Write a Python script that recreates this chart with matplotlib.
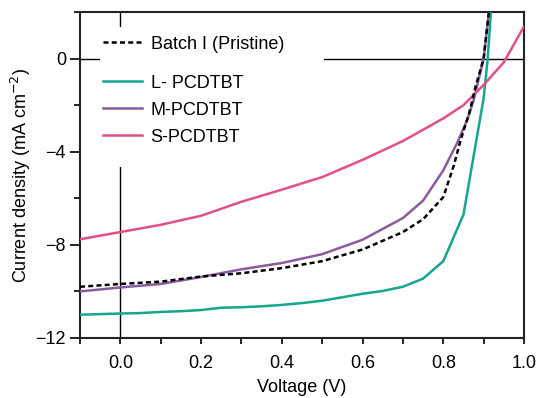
import matplotlib as mpl
mpl.use('Agg')
import matplotlib.pyplot as plt
from matplotlib.patches import Rectangle
from matplotlib.ticker import MultipleLocator
import numpy as np

# J-V curves (V in volts, J in mA cm-2)
v_batch = [-0.1, 0.0, 0.1, 0.2, 0.3, 0.4, 0.5, 0.6, 0.7, 0.75, 0.8, 0.826, 0.843, 0.865, 0.88, 0.9, 0.913]
j_batch = [-9.8, -9.68, -9.58, -9.36, -9.22, -9.0, -8.7, -8.2, -7.45, -6.9, -5.95, -4.6, -3.5, -2.3, -1.2, 0.0, 2.0]

v_L = [-0.1, 0.0, 0.05, 0.1, 0.15, 0.2, 0.25, 0.3, 0.35, 0.4, 0.45, 0.5, 0.55, 0.6, 0.65, 0.7, 0.75, 0.8, 0.85, 0.9, 0.91, 0.918]
j_L = [-11.0, -10.95, -10.93, -10.88, -10.85, -10.8, -10.7, -10.68, -10.64, -10.58, -10.5, -10.4, -10.25, -10.1, -9.98, -9.8, -9.45, -8.7, -6.7, -1.7, 0.0, 2.0]

v_M = [-0.1, 0.0, 0.1, 0.2, 0.3, 0.4, 0.5, 0.6, 0.7, 0.75, 0.8, 0.835, 0.86, 0.875, 0.9, 0.913]
j_M = [-10.0, -9.83, -9.68, -9.38, -9.05, -8.78, -8.4, -7.78, -6.85, -6.1, -4.8, -3.6, -2.6, -1.8, 0.0, 2.0]

v_S = [-0.1, 0.0, 0.1, 0.2, 0.3, 0.4, 0.5, 0.6, 0.7, 0.8, 0.85, 0.9, 0.95, 1.0]
j_S = [-7.76, -7.45, -7.14, -6.75, -6.15, -5.63, -5.09, -4.35, -3.54, -2.57, -2.0, -1.13, -0.16, 1.38]

labels = ['Batch I (Pristine)', 'L- PCDTBT', 'M-PCDTBT', 'S-PCDTBT']
colors = ['black', '#16a58d', '#8a5c9e', '#e2508a']

mpl.rc('font', family='Liberation Sans', size=13)

fig = plt.figure(figsize=(5.38, 3.98), dpi=100)
ax = fig.add_axes([0.1487, 0.1508, 0.8253, 0.819])

ax.axhline(0, color='black', lw=1.0, zorder=1)
ax.axvline(0, color='black', lw=1.0, zorder=1)
# white block behind the legend (hides the zero lines there)
ax.add_patch(Rectangle((0.045, 0.525), 0.505, 0.43, transform=ax.transAxes,
                       facecolor='white', edgecolor='none', zorder=2))

l_b, = ax.plot(v_batch, j_batch, color=colors[0], lw=1.8, dashes=(2.0, 1.3), zorder=5)
l_L, = ax.plot(v_L, j_L, color=colors[1], lw=1.8, zorder=4)
l_M, = ax.plot(v_M, j_M, color=colors[2], lw=1.8, zorder=4)
l_S, = ax.plot(v_S, j_S, color=colors[3], lw=1.8, zorder=4)

ax.set_xlim(-0.1, 1.0)
ax.set_ylim(-12, 2)
ax.xaxis.set_major_locator(MultipleLocator(0.2))
ax.xaxis.set_minor_locator(MultipleLocator(0.1))
ax.yaxis.set_major_locator(MultipleLocator(4))
ax.yaxis.set_minor_locator(MultipleLocator(2))
ax.xaxis.set_major_formatter(mpl.ticker.FormatStrFormatter('%.1f'))
ax.yaxis.set_major_formatter(mpl.ticker.FuncFormatter(lambda y, p: ('%d' % y).replace('-', '\u2212')))
ax.tick_params(axis='x', which='both', length=4, width=1.2, pad=8)
ax.tick_params(axis='y', which='major', length=7, width=1.2, pad=3)
ax.tick_params(axis='y', which='minor', length=4, width=1.2)
for s in ax.spines.values():
    s.set_linewidth(1.5)
    s.set_color('#222222')

ax.set_xlabel('Voltage (V)', labelpad=5)
ax.set_ylabel('Current density (mA cm$^{\u22122}$)', labelpad=2)

leg1 = ax.legend([l_b], [labels[0]], loc='upper left', bbox_to_anchor=(0.035, 0.95),
                 frameon=False, handlelength=2.2, handletextpad=0.45, borderaxespad=0)
ax.add_artist(leg1)
leg1.set_zorder(6)
leg2 = ax.legend([l_L, l_M, l_S], labels[1:], loc='upper left', bbox_to_anchor=(0.035, 0.83),
                 frameon=False, handlelength=2.2, handletextpad=0.45, borderaxespad=0,
                 labelspacing=0.55)
leg2.set_zorder(6)

plt.savefig('out.png', dpi=100)
